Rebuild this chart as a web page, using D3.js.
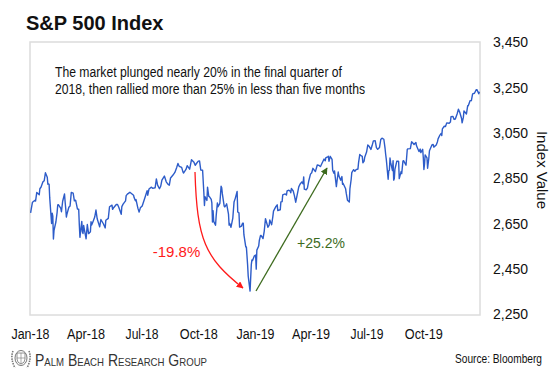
<!DOCTYPE html>
<html><head><meta charset="utf-8">
<script src="https://cdn.jsdelivr.net/npm/d3@7"></script>
<style>html,body{margin:0;padding:0;background:#fff}svg{display:block}text{font-family:"Liberation Sans",Arial,sans-serif}</style>
</head><body>
<script>
const title = "S&P 500 Index";
const noteLines = ["The market plunged nearly 20% in the final quarter of","2018, then rallied more than 25% in less than five months"];
const yTicks = [2250,2450,2650,2850,3050,3250,3450];
const xTickDates = ["2018-01-01","2018-04-01","2018-07-01","2018-10-01","2019-01-01","2019-04-01","2019-07-01","2019-10-01"];
const xTickLabels = ["Jan-18","Apr-18","Jul-18","Oct-18","Jan-19","Apr-19","Jul-19","Oct-19"];
const dropLabel = "-19.8%";
const riseLabel = "+25.2%";
const dates2018 = ["01-02","01-03","01-05","01-09","01-10","01-12","01-16","01-17","01-19","01-22","01-24","01-26","01-29","01-30","01-31","02-01","02-02","02-05","02-06","02-07","02-08","02-09","02-12","02-14","02-15","02-16","02-20","02-21","02-23","02-26","02-27","02-28","03-01","03-02","03-05","03-07","03-09","03-12","03-14","03-16","03-19","03-21","03-22","03-23","03-26","03-27","03-28","03-29","04-02","04-03","04-04","04-06","04-09","04-10","04-11","04-13","04-16","04-18","04-20","04-24","04-26","04-30","05-02","05-03","05-04","05-08","05-10","05-14","05-15","05-17","05-21","05-23","05-25","05-29","05-30","06-01","06-05","06-06","06-08","06-12","06-14","06-18","06-19","06-21","06-22","06-25","06-27","06-29","07-02","07-06","07-10","07-11","07-13","07-17","07-19","07-23","07-25","07-27","07-30","08-01","08-03","08-07","08-10","08-13","08-15","08-17","08-21","08-24","08-27","08-29","08-31","09-04","09-06","09-07","09-11","09-13","09-17","09-20","09-24","09-26","09-28","10-01","10-03","10-05","10-08","10-10","10-11","10-12","10-15","10-16","10-18","10-19","10-22","10-23","10-24","10-25","10-26","10-29","10-30","10-31","11-01","11-02","11-05","11-07","11-08","11-09","11-12","11-13","11-15","11-16","11-19","11-20","11-21","11-23","11-26","11-28","11-30","12-03","12-04","12-06","12-07","12-10","12-12","12-13","12-14","12-17","12-18","12-19","12-20","12-21","12-24","12-26","12-27","12-28","12-31"];
const values2018 = [2695.81,2713.06,2743.15,2751.29,2748.23,2786.24,2776.42,2802.56,2810.30,2832.97,2837.54,2872.87,2853.53,2822.43,2823.81,2821.98,2762.13,2648.94,2695.14,2681.66,2581.00,2619.55,2656.00,2698.63,2731.20,2732.22,2716.26,2701.33,2747.30,2779.60,2744.28,2713.83,2677.67,2691.25,2720.94,2726.80,2786.57,2783.02,2749.48,2752.01,2712.92,2711.93,2643.69,2588.26,2658.55,2612.62,2605.00,2640.87,2581.88,2614.45,2644.69,2604.47,2613.16,2656.87,2642.19,2656.30,2677.84,2708.64,2670.14,2634.56,2666.94,2648.05,2635.67,2629.73,2663.42,2671.92,2723.07,2730.13,2711.45,2720.13,2733.01,2733.29,2721.33,2689.86,2724.01,2734.62,2748.80,2772.35,2779.03,2786.85,2782.49,2773.75,2762.59,2749.76,2754.88,2717.07,2699.63,2718.37,2726.71,2759.82,2793.84,2774.02,2801.31,2809.55,2804.49,2806.98,2846.07,2818.82,2802.60,2813.36,2840.35,2858.45,2833.28,2821.93,2818.37,2850.13,2862.96,2874.69,2896.74,2914.04,2901.52,2896.72,2878.05,2871.68,2887.89,2904.18,2888.80,2930.75,2919.37,2905.97,2913.98,2924.59,2925.51,2885.57,2884.43,2785.68,2728.37,2767.13,2750.79,2809.92,2768.78,2767.78,2755.88,2740.69,2656.10,2705.57,2658.69,2641.25,2682.63,2711.74,2740.37,2723.06,2738.31,2813.89,2806.83,2781.01,2726.22,2722.18,2730.20,2736.27,2690.73,2641.89,2649.93,2632.56,2673.45,2743.79,2760.17,2790.37,2700.06,2695.95,2633.08,2637.72,2651.07,2650.54,2599.95,2545.94,2546.16,2506.96,2467.42,2416.62,2351.10,2467.70,2488.83,2485.74,2506.85];
const dates2019 = ["01-02","01-03","01-04","01-07","01-08","01-10","01-11","01-14","01-16","01-18","01-22","01-24","01-25","01-28","01-30","01-31","02-04","02-06","02-07","02-08","02-11","02-12","02-14","02-15","02-19","02-21","02-22","02-25","02-27","02-28","03-01","03-04","03-06","03-08","03-11","03-13","03-15","03-18","03-20","03-21","03-22","03-25","03-27","03-29","04-01","04-03","04-05","04-09","04-12","04-15","04-17","04-18","04-23","04-25","04-26","04-29","04-30","05-01","05-03","05-06","05-07","05-09","05-10","05-13","05-14","05-16","05-17","05-20","05-22","05-23","05-24","05-28","05-29","05-31","06-03","06-04","06-06","06-07","06-10","06-12","06-14","06-17","06-18","06-20","06-21","06-24","06-25","06-27","06-28","07-01","07-03","07-05","07-08","07-10","07-12","07-15","07-17","07-19","07-22","07-24","07-26","07-29","07-31","08-01","08-02","08-05","08-06","08-07","08-08","08-09","08-12","08-13","08-14","08-15","08-16","08-19","08-21","08-22","08-23","08-26","08-27","08-29","08-30","09-03","09-05","09-06","09-10","09-12","09-13","09-16","09-19","09-20","09-24","09-26","09-27","09-30","10-01","10-02","10-03","10-04","10-07","10-08","10-10","10-11","10-15","10-17","10-18","10-22","10-24","10-25","10-28","10-30","10-31","11-01","11-04","11-06","11-08","11-12","11-14","11-15","11-18","11-20","11-22","11-25","11-27","11-29","12-02","12-03","12-05","12-06","12-10","12-12","12-13","12-16","12-18","12-20","12-23","12-26","12-27","12-30","12-31"];
const values2019 = [2510.03,2447.89,2531.94,2549.69,2574.41,2596.64,2596.26,2582.61,2616.10,2670.71,2632.90,2642.33,2664.76,2643.85,2681.05,2704.10,2724.87,2731.61,2706.05,2707.88,2709.80,2744.73,2745.73,2775.60,2779.76,2774.88,2792.67,2796.11,2792.38,2784.49,2803.69,2792.81,2771.45,2743.07,2783.30,2810.92,2822.48,2832.94,2824.23,2854.88,2800.71,2798.36,2805.37,2834.40,2867.19,2873.40,2892.74,2878.20,2907.41,2905.58,2900.45,2905.03,2933.68,2926.17,2939.88,2943.03,2945.83,2923.73,2945.64,2932.47,2884.05,2870.72,2881.40,2811.87,2834.41,2876.32,2859.53,2840.23,2856.27,2822.24,2826.06,2802.39,2783.02,2752.06,2744.45,2803.27,2843.49,2873.34,2886.73,2879.84,2886.98,2889.67,2917.75,2954.18,2950.46,2945.35,2917.38,2924.92,2941.76,2964.33,2995.82,2990.41,2975.95,2993.07,3013.77,3014.30,2984.42,2976.61,2985.03,3019.56,3025.86,3020.97,2980.38,2953.56,2932.05,2844.74,2881.77,2883.98,2938.09,2918.65,2882.70,2926.32,2840.60,2847.60,2888.68,2923.65,2924.43,2922.95,2847.11,2878.38,2869.16,2924.58,2926.46,2906.27,2976.00,2978.71,2979.39,3009.57,3007.39,2997.96,3006.79,2992.07,2966.60,2977.62,2961.79,2976.74,2940.25,2887.61,2910.63,2952.01,2938.79,2893.06,2938.13,2970.27,2995.68,2997.95,2986.20,2995.99,3010.29,3022.55,3039.42,3046.77,3037.56,3066.91,3078.27,3076.78,3093.08,3091.84,3096.63,3120.46,3122.03,3108.46,3110.29,3133.64,3153.63,3140.98,3113.87,3093.20,3117.43,3145.91,3132.52,3168.57,3168.80,3191.45,3191.14,3221.22,3224.01,3239.91,3240.02,3221.29,3230.78];

const W = 560, H = 383;
const plot = {left:30, right:480, top:42, bottom:314};
const parse = d3.timeParse("%Y-%m-%d");
const data = [];
dates2018.forEach((d,i)=>data.push({date:parse("2018-"+d), value:values2018[i]}));
dates2019.forEach((d,i)=>data.push({date:parse("2019-"+d), value:values2019[i]}));

const x = d3.scaleTime().domain([parse("2018-01-01"), parse("2020-01-01")]).range([plot.left, plot.right]);
const y = d3.scaleLinear().domain([2250,3450]).range([plot.bottom, plot.top]);

const svg = d3.select("body").append("svg").attr("width",W).attr("height",H);

const defs = svg.append("defs");
function marker(id,color){
  defs.append("marker").attr("id",id).attr("viewBox","0 0 10 10").attr("refX",9).attr("refY",5)
    .attr("markerWidth",7).attr("markerHeight",7).attr("markerUnits","userSpaceOnUse").attr("orient","auto")
    .append("path").attr("d","M0,0 L10,5 L0,10 Z").attr("fill",color);
}
marker("redHead","#ff1a1a");
marker("greenHead","#3d6b1e");

// title
svg.append("text").attr("x",26).attr("y",29.5).attr("font-size",20).attr("font-weight","bold").attr("fill","#111").text(title);

// plot frame
svg.append("rect").attr("x",plot.left).attr("y",plot.top).attr("width",plot.right-plot.left).attr("height",plot.bottom-plot.top+1)
  .attr("fill","none").attr("stroke","#dcdcdc").attr("stroke-width",1.5);

// note
const noteLens = [287, 310];
noteLines.forEach((t,i)=>{
  svg.append("text").attr("x",55).attr("y",76.5+i*17.6).attr("font-size",14).attr("fill","#111")
    .attr("textLength",noteLens[i]).attr("lengthAdjust","spacingAndGlyphs").text(t);
});

// y axis (right)
const yAxis = d3.axisRight(y).tickValues(yTicks).tickSize(0).tickPadding(0).tickFormat(d3.format(","));
const ya = svg.append("g").attr("transform",`translate(493,0)`).call(yAxis);
ya.select(".domain").remove();
ya.selectAll("text").attr("font-family","Liberation Sans, Arial, sans-serif").attr("font-size",14).attr("fill","#111").attr("dy","0.35em");

// y title
svg.append("text").attr("transform","translate(537,170) rotate(90)").attr("text-anchor","middle")
  .attr("font-size",15).attr("fill","#111").text("Index Value");

// x axis
const xAxis = d3.axisBottom(x).tickValues(xTickDates.map(parse)).tickSize(0).tickPadding(0)
  .tickFormat((d,i)=>xTickLabels[i]);
const xa = svg.append("g").attr("transform",`translate(0,328)`).call(xAxis);
xa.select(".domain").remove();
xa.selectAll("text").attr("font-family","Liberation Sans, Arial, sans-serif").attr("font-size",14).attr("fill","#111")
  .attr("dy","0.8em").attr("lengthAdjust","spacingAndGlyphs");
xa.selectAll(".tick text").each(function(d,i){
  const w = xTickLabels[i].startsWith("Jul") ? 33 : 38;
  d3.select(this).attr("textLength",w).attr("x",-w/2).attr("text-anchor","start");
});

// line
const line = d3.line().x(d=>x(d.date)).y(d=>y(d.value));
svg.append("path").datum(data).attr("d",line).attr("fill","none").attr("stroke","#2d5cc9").attr("stroke-width",1.4).attr("stroke-linejoin","round");

// red arrow
svg.append("path").attr("d","M195,172 C197,240 205,258 243,288").attr("fill","none").attr("stroke","#ff1a1a").attr("stroke-width",1.3).attr("marker-end","url(#redHead)");
svg.append("text").attr("x",176.5).attr("y",256.5).attr("text-anchor","middle").attr("font-size",15).attr("fill","#ff1a1a").text(dropLabel);

// green arrow
svg.append("path").attr("d","M256,291 L327,168").attr("fill","none").attr("stroke","#3d6b1e").attr("stroke-width",1.3).attr("marker-end","url(#greenHead)");
svg.append("text").attr("x",321).attr("y",248).attr("text-anchor","middle").attr("font-size",14).attr("fill","#3d6b1e").text(riseLabel);

// footer logo
const logo = svg.append("g").attr("transform","translate(21,358)").attr("stroke","#777").attr("fill","none");
logo.append("ellipse").attr("rx",6).attr("ry",7.5).attr("stroke-width",1);
logo.append("path").attr("d","M-4,-5 L4,-5 L4,1 Q4,5 0,6 Q-4,5 -4,1 Z").attr("stroke-width",0.8);
logo.append("path").attr("d","M0,-5 L0,6 M-4,0 L4,0").attr("stroke-width",0.6);
logo.append("path").attr("d","M-8,-7 Q-11,0 -6,10 M8,-7 Q11,0 6,10").attr("stroke-width",1.6).attr("stroke-dasharray","1.5,1");

// footer text (small caps)
svg.append("text").attr("x",35).attr("y",365.5).attr("fill","#333")
  .attr("font-family","Liberation Serif, Times New Roman, serif").attr("font-size",16)
  .style("font-variant","small-caps")
  .attr("textLength",172).attr("lengthAdjust","spacingAndGlyphs").text("Palm Beach Research Group");

svg.append("text").attr("x",455).attr("y",363).attr("font-size",12).attr("fill","#111")
  .attr("textLength",87).attr("lengthAdjust","spacingAndGlyphs").text("Source: Bloomberg");
</script>
</body></html>
